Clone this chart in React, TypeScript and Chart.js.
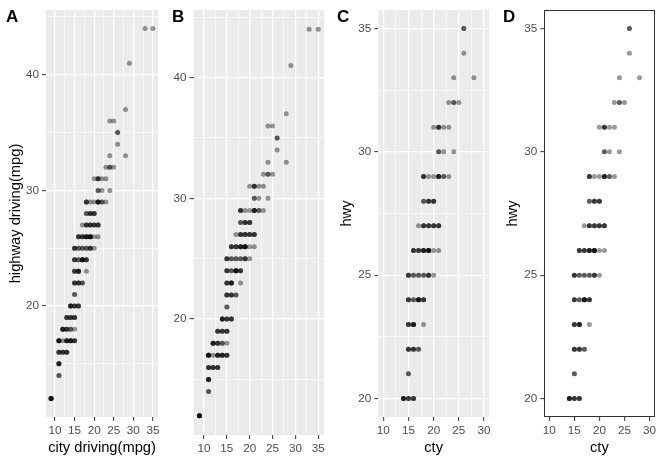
import React, { useEffect, useRef } from "react";
import { Chart, registerables } from "chart.js";

Chart.register(...registerables);

// ---- data: unique (cty, hwy) combinations and number of cars at each ----
const pointCty = [
  9,
  11,
  11,
  11, 12, 13,
  11, 12, 13, 14, 15,
  12, 13, 14, 15,
  13, 14, 15,
  14, 15, 16,
  15,
  15, 16, 17,
  15, 16, 18,
  15, 16, 17, 18,
  15, 16, 17, 18, 19, 20,
  16, 17, 18, 19, 20, 21,
  17, 18, 19, 20, 21,
  18, 19, 20,
  18, 19, 20, 21, 22, 23,
  21, 22, 24,
  20, 21, 22, 23,
  23, 24, 25,
  24, 28,
  26,
  26,
  24, 25,
  28,
  29,
  33, 35,
];
const pointHwy = [
  12,
  14,
  15,
  16, 16, 16,
  17, 17, 17, 17, 17,
  18, 18, 18, 18,
  19, 19, 19,
  20, 20, 20,
  21,
  22, 22, 22,
  23, 23, 23,
  24, 24, 24, 24,
  25, 25, 25, 25, 25, 25,
  26, 26, 26, 26, 26, 26,
  27, 27, 27, 27, 27,
  28, 28, 28,
  29, 29, 29, 29, 29, 29,
  30, 30, 30,
  31, 31, 31, 31,
  32, 32, 32,
  33, 33,
  34,
  35,
  36, 36,
  37,
  41,
  44, 44,
];
const pointCount = [
  5,
  2,
  4,
  3, 3, 3,
  5, 1, 4, 4, 3,
  4, 3, 2, 1,
  3, 3, 3,
  4, 3, 3,
  2,
  3, 3, 2,
  3, 4, 1,
  3, 2, 5, 3,
  3, 2, 2, 2, 3, 1,
  3, 3, 4, 5, 1, 1,
  1, 3, 3, 3, 3,
  2, 3, 3,
  3, 1, 1, 4, 2, 1,
  2, 1, 1,
  1, 3, 1, 1,
  1, 2, 1,
  1, 1,
  1,
  2,
  1, 1,
  1,
  1,
  1, 1,
];

// panels C and D keep only cars whose highway mpg lies in this range
const subsetHwyRange = [20, 35];

// ---- tick labels / break positions ----
const fullXMajor = [10, 15, 20, 25, 30, 35];
const fullXMinor = [12.5, 17.5, 22.5, 27.5, 32.5];
const fullYMajor = [20, 30, 40];
const fullYMinor = [15, 25, 35, 45];
const subXMajor = [10, 15, 20, 25, 30];
const subXMinor = [12.5, 17.5, 22.5, 27.5];
const subYMajor = [20, 25, 30, 35];
const subYMinor = [22.5, 27.5, 32.5];

const panelLetters = ["A", "B", "C", "D"];
const xTitles = ["city driving(mpg)", "", "cty", "cty"];
const yTitles = ["highway driving(mpg)", "", "hwy", "hwy"];

const FONT = "'Liberation Sans', Arial, sans-serif";

type Pt = { x: number; y: number };

function buildPoints(subset: boolean): Pt[] {
  const pts: Pt[] = [];
  for (let i = 0; i < pointCty.length; i++) {
    const h = pointHwy[i];
    if (subset && (h < subsetHwyRange[0] || h > subsetHwyRange[1])) continue;
    for (let k = 0; k < pointCount[i]; k++) pts.push({ x: pointCty[i], y: h });
  }
  return pts;
}

const panelPlugin = {
  id: "panelDeco",
  beforeDraw(chart: any, _args: any, opts: any) {
    const { ctx, chartArea: a } = chart;
    if (opts.fill) {
      ctx.save();
      ctx.fillStyle = opts.fill;
      ctx.fillRect(a.left, a.top, a.right - a.left, a.bottom - a.top);
      ctx.restore();
    }
  },
  afterDraw(chart: any, _args: any, opts: any) {
    const { ctx, chartArea: a } = chart;
    ctx.save();
    if (opts.border) {
      ctx.strokeStyle = "#333333";
      ctx.lineWidth = 1;
      const l = Math.round(a.left) + 0.5;
      const t = Math.round(a.top) + 0.5;
      const r = Math.round(a.right) - 0.5;
      const b = Math.round(a.bottom) - 0.5;
      ctx.strokeRect(l, t, r - l, b - t);
    }
    if (opts.letter) {
      ctx.fillStyle = "#000000";
      ctx.font = `bold 17px ${FONT}`;
      ctx.textAlign = "left";
      ctx.textBaseline = "alphabetic";
      ctx.fillText(opts.letter, 6, 21.7);
    }
    ctx.restore();
  },
};

type PanelSpec = {
  idx: number;
  left: number;
  width: number;
  yW: number;
  padRight: number;
  xH: number;
  subset: boolean;
  theme: "gray" | "bw";
};

const panels: PanelSpec[] = [
  { idx: 0, left: 0, width: 166, yW: 46, padRight: 8, xH: 46, subset: false, theme: "gray" },
  { idx: 1, left: 166, width: 165, yW: 27.5, padRight: 6.8, xH: 28, subset: false, theme: "gray" },
  { idx: 2, left: 331, width: 166, yW: 47.3, padRight: 8, xH: 46, subset: true, theme: "gray" },
  { idx: 3, left: 497, width: 166, yW: 47.3, padRight: 8.5, xH: 46, subset: true, theme: "bw" },
];

function axisConfig(
  major: number[],
  minor: number[],
  min: number,
  max: number,
  gray: boolean,
  title: string,
  isX: boolean,
  size: number
) {
  const isMajor = (v: number) => major.some((m) => Math.abs(m - v) < 1e-6);
  return {
    type: "linear",
    position: isX ? "bottom" : "left",
    min,
    max,
    afterBuildTicks: (s: any) => {
      s.ticks = [...major, ...minor].sort((a, b) => a - b).map((v) => ({ value: v }));
    },
    afterFit: (s: any) => {
      if (isX) s.height = size;
      else s.width = size;
    },
    ticks: {
      autoSkip: false,
      maxRotation: 0,
      minRotation: 0,
      padding: 3,
      color: "#4D4D4D",
      font: { size: 11.7, family: FONT },
      callback: (v: any) => (isMajor(Number(v)) ? String(v) : ""),
    },
    grid: {
      display: true,
      drawOnChartArea: gray,
      drawTicks: true,
      tickLength: 4,
      color: "#FFFFFF",
      lineWidth: (c: any) => (c.tick && isMajor(c.tick.value) ? 1.3 : 0.6),
      tickColor: (c: any) => (c.tick && isMajor(c.tick.value) ? "#333333" : "rgba(0,0,0,0)"),
      tickWidth: 1,
    },
    border: { display: false },
    title: {
      display: !!title,
      text: title,
      color: "#000000",
      font: { size: 14.7, family: FONT },
      padding: isX ? { top: 0, bottom: 6 } : { top: 7, bottom: 0 },
    },
  };
}

function Panel({ spec }: { spec: PanelSpec }) {
  const ref = useRef<HTMLCanvasElement | null>(null);
  useEffect(() => {
    if (!ref.current) return;
    const gray = spec.theme === "gray";
    const xMaj = spec.subset ? subXMajor : fullXMajor;
    const xMin = spec.subset ? subXMinor : fullXMinor;
    const yMaj = spec.subset ? subYMajor : fullYMajor;
    const yMin = spec.subset ? subYMinor : fullYMinor;
    const xLim = spec.subset ? [9, 31] : [7.7, 36.3];
    const yLim = spec.subset ? [19.25, 35.75] : [10.4, 45.6];
    const chart = new Chart(ref.current, {
      type: "scatter",
      data: {
        datasets: [
          {
            data: buildPoints(spec.subset),
            pointRadius: 2.5,
            pointHoverRadius: 2.5,
            pointBackgroundColor: "rgba(0,0,0,0.4)",
            pointBorderWidth: 0,
            pointBorderColor: "rgba(0,0,0,0)",
          } as any,
        ],
      },
      options: {
        animation: false,
        responsive: false,
        maintainAspectRatio: false,
        events: [],
        layout: { padding: { left: 0, right: spec.padRight, top: 7.3, bottom: 0 } },
        scales: {
          x: axisConfig(xMaj, xMin, xLim[0], xLim[1], gray, xTitles[spec.idx], true, spec.xH) as any,
          y: axisConfig(yMaj, yMin, yLim[0], yLim[1], gray, yTitles[spec.idx], false, spec.yW) as any,
        },
        plugins: {
          legend: { display: false },
          tooltip: { enabled: false },
          panelDeco: {
            fill: gray ? "#EBEBEB" : null,
            border: !gray,
            letter: panelLetters[spec.idx],
          },
        } as any,
      },
      plugins: [panelPlugin],
    });
    return () => chart.destroy();
  }, [spec]);
  return (
    <canvas
      ref={ref}
      width={spec.width}
      height={463}
      style={{ position: "absolute", left: spec.left, top: 0, width: spec.width, height: 463 }}
    />
  );
}

export default function App() {
  return (
    <div style={{ position: "absolute", left: 0, top: 0, width: 663, height: 463, background: "#FFFFFF" }}>
      {panels.map((p) => (
        <Panel key={p.idx} spec={p} />
      ))}
    </div>
  );
}
